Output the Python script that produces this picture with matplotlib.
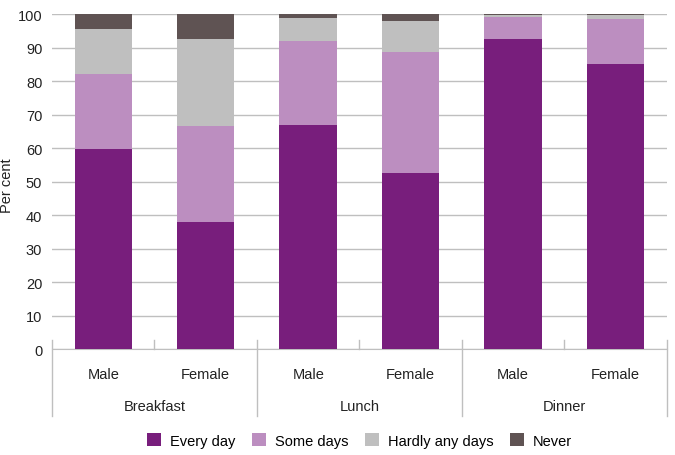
import matplotlib
matplotlib.use("Agg")
import matplotlib.pyplot as plt
import numpy as np

plt.rcParams['font.family'] = ['Liberation Sans', 'DejaVu Sans']

groups = ["Breakfast", "Lunch", "Dinner"]
sexes = ["Male", "Female"]
series = ["Every day", "Some days", "Hardly any days", "Never"]
every_day = [59.7, 38.0, 66.8, 52.5, 92.7, 85.0]
some_days = [22.3, 28.5, 25.2, 36.2, 6.5, 13.5]
hardly = [13.6, 26.0, 6.9, 9.3, 0.5, 1.1]
never = [4.4, 7.5, 1.1, 2.0, 0.3, 0.4]
colors = ["#781E7C", "#BC8EC0", "#BFBFBF", "#5F5353"]

fig = plt.figure(figsize=(6.75, 4.56), dpi=100)
ax = fig.add_axes([0.077, 0.232, 0.911, 0.735])

x = np.arange(6)
bottom = np.zeros(6)
for vals, c, lab in zip([every_day, some_days, hardly, never], colors, series):
    ax.bar(x, vals, 0.56, bottom=bottom, color=c, label=lab, zorder=3)
    bottom += np.array(vals)

ax.set_xlim(-0.5, 5.5)
ax.set_ylim(0, 100)
ax.set_yticks(range(0, 101, 10))
ax.yaxis.grid(True, color="#BFBFBF", linewidth=1, zorder=0)
ax.tick_params(axis='y', length=0, labelsize=10.5, colors="#222222", pad=7)
ax.set_ylabel("Per cent", fontsize=10.5, color="#222222")
ax.yaxis.set_label_coords(-0.061, 0.49)
for s in ["top", "right", "left"]:
    ax.spines[s].set_visible(False)
ax.spines["bottom"].set_color("#BFBFBF")
ax.set_xticks([])

trans = ax.get_xaxis_transform()
# small ticks between male/female
for xi in [0.5, 2.5, 4.5]:
    ax.plot([xi, xi], [0, 0.027], transform=trans, color="#BFBFBF", lw=1, clip_on=False)
# group separators
for xi in [-0.5, 1.5, 3.5, 5.5]:
    ax.plot([xi, xi], [0.027, -0.2], transform=trans, color="#BFBFBF", lw=1, clip_on=False)

for i in range(6):
    ax.text(x[i], -0.075, sexes[i % 2], transform=trans, ha="center", va="center",
            fontsize=10.5, color="#222222")
for g, name in enumerate(groups):
    ax.text(2 * g + 0.5, -0.17, name, transform=trans, ha="center", va="center",
            fontsize=10.5, color="#222222")

ax.legend(loc="center", bbox_to_anchor=(0.5, -0.272), ncol=4, frameon=False,
          fontsize=10.5, handlelength=1.0, handleheight=1.0, columnspacing=1.1,
          handletextpad=0.6)

fig.savefig("out.png", dpi=100)
